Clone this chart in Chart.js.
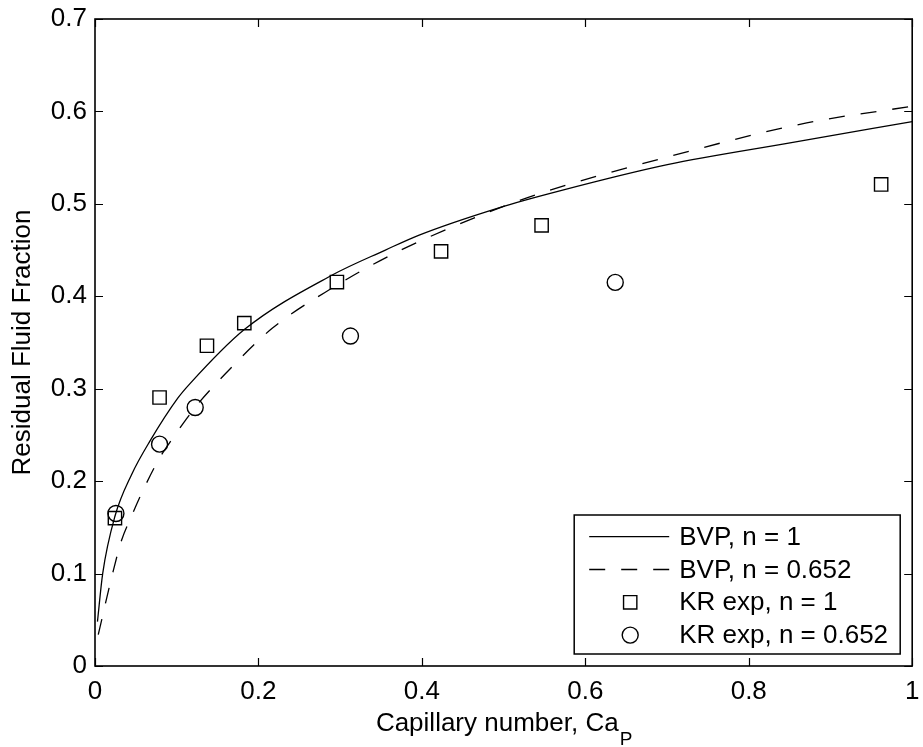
<!DOCTYPE html>
<html>
<head>
<meta charset="utf-8">
<script src="https://cdn.jsdelivr.net/npm/chart.js@4/dist/chart.umd.min.js"></script>
<style>
html,body{margin:0;padding:0;background:#fff;}
#wrap{width:923px;height:747px;position:relative;}
</style>
</head>
<body>
<div id="wrap"><canvas id="c" width="923" height="747"></canvas></div>
<script>
// ---- data ----
const solidX = [0.003, 0.0094, 0.0244, 0.0447, 0.067, 0.1015, 0.1157, 0.1827, 0.2903, 0.3553, 0.3959, 0.4933, 0.5664, 0.7004, 0.8505, 1.0];
const solidY = [0.048, 0.100, 0.162, 0.207, 0.243, 0.290, 0.305, 0.364, 0.423, 0.450, 0.466, 0.4955, 0.5135, 0.5424, 0.566, 0.589];
const dashX = [0.004, 0.0215, 0.0325, 0.0446, 0.0609, 0.079, 0.0893, 0.1117, 0.1226, 0.1604, 0.2172, 0.2903, 0.3675, 0.473, 0.546, 0.6963, 0.8709, 1.0];
const dashY = [0.034, 0.100, 0.136, 0.162, 0.194, 0.225, 0.239, 0.267, 0.280, 0.317, 0.3656, 0.409, 0.447, 0.488, 0.5118, 0.5497, 0.5876, 0.6056];
const squareX = [0.0244, 0.079, 0.137, 0.1827, 0.296, 0.4235, 0.5465, 0.962];
const squareY = [0.160, 0.2905, 0.3465, 0.371, 0.4154, 0.4486, 0.4767, 0.521];
const circleX = [0.0256, 0.079, 0.1226, 0.3126, 0.6366];
const circleY = [0.165, 0.240, 0.2797, 0.357, 0.415];
const seriesLabels = ['BVP, n = 1', 'BVP, n = 0.652', 'KR exp, n = 1', 'KR exp, n = 0.652'];
const xTickValues = [0, 0.2, 0.4, 0.6, 0.8, 1];
const xTickLabels = ['0', '0.2', '0.4', '0.6', '0.8', '1'];
const yTickValues = [0, 0.1, 0.2, 0.3, 0.4, 0.5, 0.6, 0.7];
const yTickLabels = ['0', '0.1', '0.2', '0.3', '0.4', '0.5', '0.6', '0.7'];
const xTitle = 'Capillary number, Ca';
const xTitleSub = 'P';
const yTitle = 'Residual Fluid Fraction';

const FONT = "'Liberation Sans', Arial, Helvetica, sans-serif";
const FS = 26;
const pts = (xs, ys) => xs.map((x, i) => ({x: x, y: ys[i]}));

const decorPlugin = {
  id: 'decor',
  afterDraw(chart) {
    const ctx = chart.ctx;
    const a = chart.chartArea;
    const xs = chart.scales.x, ys = chart.scales.y;
    ctx.save();
    ctx.strokeStyle = '#000';
    // inward ticks
    ctx.lineWidth = 1.2;
    const TL = 8;
    ctx.beginPath();
    xTickValues.forEach(v => {
      const p = Math.round(xs.getPixelForValue(v)) + 0.5;
      ctx.moveTo(p, a.bottom); ctx.lineTo(p, a.bottom - TL);
      ctx.moveTo(p, a.top); ctx.lineTo(p, a.top + TL);
    });
    yTickValues.forEach(v => {
      const p = Math.round(ys.getPixelForValue(v)) + 0.5;
      ctx.moveTo(a.left, p); ctx.lineTo(a.left + TL, p);
      ctx.moveTo(a.right, p); ctx.lineTo(a.right - TL, p);
    });
    ctx.stroke();
    // frame
    ctx.lineWidth = 1.6;
    ctx.strokeRect(a.left, a.top, a.right - a.left, a.bottom - a.top);

    // axis titles
    ctx.fillStyle = '#000';
    ctx.font = FS + 'px ' + FONT;
    const w1 = ctx.measureText(xTitle).width;
    ctx.font = '19px ' + FONT;
    const w2 = ctx.measureText(xTitleSub).width;
    const cx = (a.left + a.right) / 2;
    const x0 = cx - (w1 + w2) / 2;
    ctx.textAlign = 'left';
    ctx.textBaseline = 'alphabetic';
    ctx.font = FS + 'px ' + FONT;
    ctx.fillText(xTitle, x0, 731);
    ctx.font = '19px ' + FONT;
    ctx.fillText(xTitleSub, x0 + w1 + 1, 745);

    ctx.save();
    ctx.translate(23, (a.top + a.bottom) / 2);
    ctx.rotate(-Math.PI / 2);
    ctx.font = FS + 'px ' + FONT;
    ctx.textAlign = 'center';
    ctx.textBaseline = 'middle';
    ctx.fillText(yTitle, 0, 0);
    ctx.restore();

    // legend
    const lw = 326, lh = 139;
    const lx = a.right - 12 - lw, ly = a.bottom - 12 - lh;
    ctx.fillStyle = '#fff';
    ctx.fillRect(lx, ly, lw, lh);
    ctx.lineWidth = 1.5;
    ctx.strokeStyle = '#000';
    ctx.strokeRect(lx, ly, lw, lh);
    chart.data.datasets.forEach((ds, i) => {
      const cy = ly + 21.7 + i * 32.8;
      ctx.strokeStyle = '#000';
      if (ds.type === 'line') {
        ctx.lineWidth = ds.borderWidth;
        ctx.setLineDash(ds.borderDash || []);
        ctx.beginPath();
        ctx.moveTo(lx + 15, cy); ctx.lineTo(lx + 95, cy);
        ctx.stroke();
        ctx.setLineDash([]);
      } else {
        ctx.fillStyle = 'rgba(0,0,0,0)';
        ctx.lineWidth = ds.borderWidth;
        Chart.helpers.drawPoint(ctx, {
          pointStyle: ds.pointStyle, radius: ds.pointRadius, borderWidth: ds.borderWidth, rotation: 0
        }, lx + 56, cy);
      }
      ctx.fillStyle = '#000';
      ctx.font = FS + 'px ' + FONT;
      ctx.textAlign = 'left';
      ctx.textBaseline = 'middle';
      ctx.fillText(ds.label, lx + 105, cy + 1);
    });
    ctx.restore();
  }
};

const fixPad = (s) => { s.paddingLeft = 0; s.paddingRight = 0; s.paddingTop = 0; s.paddingBottom = 0; };

new Chart(document.getElementById('c'), {
  type: 'scatter',
  data: {
    datasets: [
      { type: 'line', label: seriesLabels[0], data: pts(solidX, solidY), borderColor: '#000', borderWidth: 1.3,
        pointRadius: 0, cubicInterpolationMode: 'monotone', fill: false },
      { type: 'line', label: seriesLabels[1], data: pts(dashX, dashY), borderColor: '#000', borderWidth: 1.3,
        borderDash: [16, 16], pointRadius: 0, cubicInterpolationMode: 'monotone', fill: false },
      { label: seriesLabels[2], data: pts(squareX, squareY), showLine: false, pointStyle: 'rect', pointRadius: 9.4,
        borderColor: '#000', backgroundColor: 'rgba(0,0,0,0)', borderWidth: 1.4 },
      { label: seriesLabels[3], data: pts(circleX, circleY), showLine: false, pointStyle: 'circle', pointRadius: 8,
        borderColor: '#000', backgroundColor: 'rgba(0,0,0,0)', borderWidth: 1.4 }
    ]
  },
  options: {
    responsive: false,
    animation: false,
    devicePixelRatio: 1,
    layout: { padding: { left: 0, right: 7, top: 19, bottom: 0 } },
    plugins: { legend: { display: false }, tooltip: { enabled: false } },
    scales: {
      x: {
        type: 'linear', min: 0, max: 1,
        afterBuildTicks: s => { s.ticks = xTickValues.map(v => ({value: v})); },
        afterFit: s => { s.height = 81; fixPad(s); },
        ticks: { color: '#000', font: { family: FONT, size: FS }, padding: 10, maxRotation: 0, autoSkip: false,
          callback: (v, i) => xTickLabels[i] },
        grid: { display: false, drawTicks: false },
        border: { display: false },
        title: { display: false }
      },
      y: {
        type: 'linear', min: 0, max: 0.7,
        afterBuildTicks: s => { s.ticks = yTickValues.map(v => ({value: v})); },
        afterFit: s => { s.width = 95; fixPad(s); },
        ticks: { color: '#000', font: { family: FONT, size: FS }, padding: 8, autoSkip: false,
          callback: (v, i) => yTickLabels[i] },
        grid: { display: false, drawTicks: false },
        border: { display: false },
        title: { display: false }
      }
    }
  },
  plugins: [decorPlugin]
});
</script>
</body>
</html>
